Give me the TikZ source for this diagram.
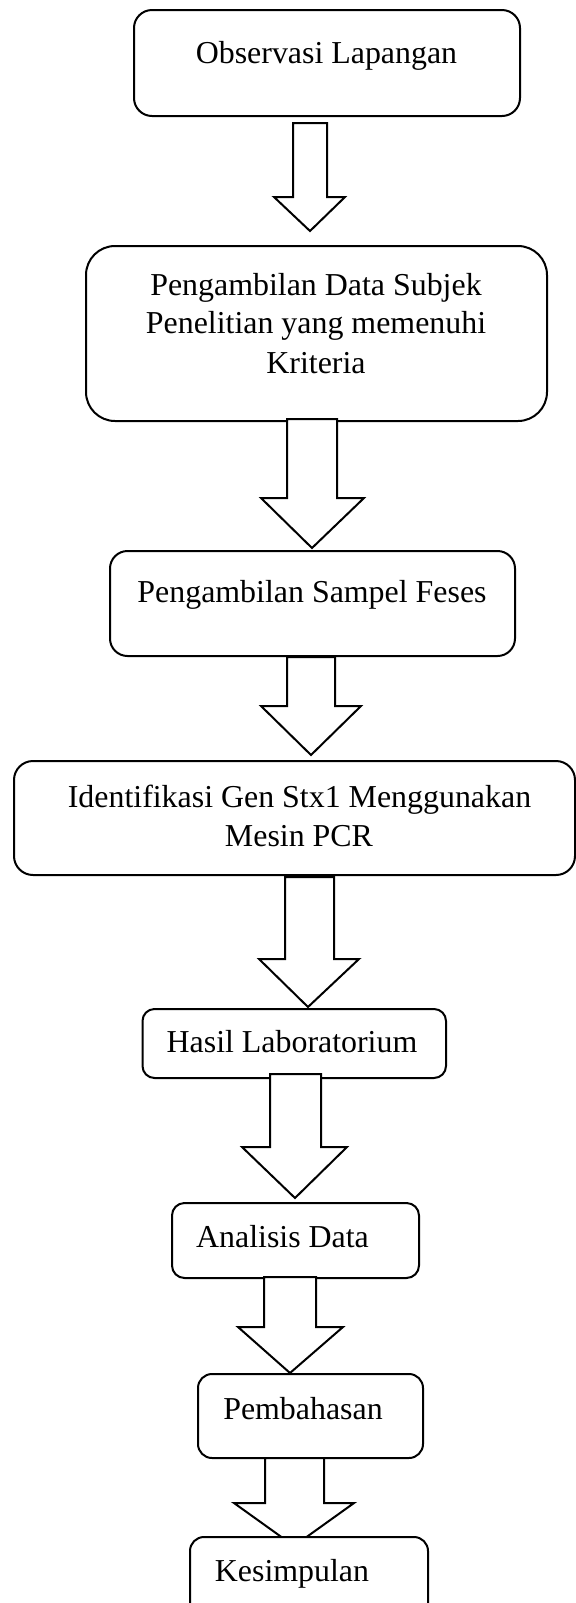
\documentclass[tikz,border=0pt]{standalone}
\usepackage{fontspec}
\setmainfont{Liberation Serif}
\tikzset{
  boxstyle/.style={draw=black, line width=1pt, fill=white, inner sep=0pt},
  txt/.style={inner sep=0pt, anchor=base, font=\fontsize{15.95pt}{19.5pt}\selectfont},
  arrowstyle/.style={draw=black, line width=1pt, fill=white, line join=miter}
}
% xL xR yTop yBase headL headR tipX tipY
\newcommand\blkarrow[8]{\draw[arrowstyle] (#1,#3) -- (#1,#4) -- (#5,#4) -- (#7,#8) -- (#6,#4) -- (#2,#4) -- (#2,#3) -- cycle;}
\begin{document}
\begin{tikzpicture}[x=0.5pt, y=-0.5pt]
\useasboundingbox (0,0) rectangle (576,1603);
\clip (0,0) rectangle (576,1603);
% boxes
\node[boxstyle, minimum width=193pt, minimum height=53pt, rounded corners=9pt] (b1) at (327,63) {};
\node[boxstyle, minimum width=230.5pt, minimum height=87.5pt, rounded corners=14.5pt] (b2) at (316.5,333.5) {};
\node[boxstyle, minimum width=202.5pt, minimum height=52.5pt, rounded corners=8.75pt] (b3) at (312.5,603.5) {};
\node[boxstyle, minimum width=280.5pt, minimum height=57pt, rounded corners=9.5pt] (b4) at (294.5,818) {};
\node[boxstyle, minimum width=151.75pt, minimum height=34.5pt, rounded corners=6pt] (b5) at (294.25,1043.5) {};
\node[boxstyle, minimum width=123.5pt, minimum height=37.5pt, rounded corners=6.25pt] (b6) at (295.5,1240.5) {};
\node[boxstyle, minimum width=112.5pt, minimum height=42pt, rounded corners=7pt] (b7) at (310.5,1416) {};
% texts
\node[txt] (t1) at (326.5,63) {Observasi Lapangan};
\node[txt] (t2a) at (316,295) {Pengambilan Data Subjek};
\node[txt] (t2b) at (316,333.5) {Penelitian yang memenuhi};
\node[txt] (t2c) at (316,373) {Kriteria};
\node[txt] (t3) at (312,602) {Pengambilan Sampel Feses};
\node[txt] (t4a) at (299.5,807) {Identifikasi Gen Stx1 Menggunakan};
\node[txt] (t4b) at (299,846.5) {Mesin PCR};
\node[txt] (t5) at (292,1052) {Hasil Laboratorium};
\node[txt] (t6) at (282.5,1247.5) {Analisis Data};
\node[txt] (t7) at (303,1419) {Pembahasan};
% block arrows
\blkarrow{293}{327}{123}{197}{274}{345}{310}{231}
\blkarrow{287}{337}{419}{498}{261}{364}{312}{548}
\blkarrow{287}{335}{657}{706}{261}{361}{311}{755}
\blkarrow{285}{334}{877}{959}{259}{359}{308}{1007}
\blkarrow{270}{321}{1074}{1147}{242}{347}{295}{1198}
\blkarrow{264}{316}{1277}{1327}{238}{343}{290}{1373}
\blkarrow{265}{324}{1458}{1503}{234}{354}{294}{1546}
% last box on top of last arrow
\node[boxstyle, minimum width=119pt, minimum height=52pt, rounded corners=7pt] (b8) at (309,1589) {};
\node[txt] (t8) at (292,1581) {Kesimpulan};
\end{tikzpicture}
\end{document}
